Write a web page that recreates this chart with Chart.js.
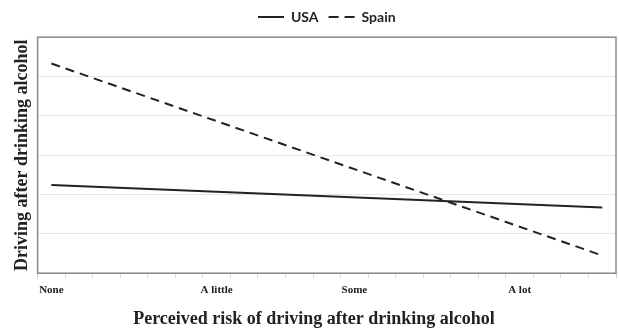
<!DOCTYPE html>
<html>
<head>
<meta charset="utf-8">
<script src="https://cdn.jsdelivr.net/npm/chart.js@4.4.1/dist/chart.umd.min.js"></script>
<style>
  html, body { margin: 0; padding: 0; background: #fff; }
  #wrap { width: 619px; height: 330px; }
</style>
</head>
<body>
<div id="wrap"><canvas id="riskChart"></canvas></div>
<script>
// 21 steps along the perceived-risk axis, only four of them labelled
const stepCount = 21;
const riskLabels = ["None", "A little", "Some", "A lot"];
const riskLabelSteps = [0, 6, 11, 17];

// fitted lines: value at the first and at the last step
const usaValues = [2.24, 1.67];
const spainValues = [5.33, 0.45];

const yTicks = [0, 1, 2, 3, 4, 5, 6];

const categories = [];
for (let i = 0; i < stepCount; i++) {
  const k = riskLabelSteps.indexOf(i);
  categories.push(k >= 0 ? riskLabels[k] : "");
}

function endpoints(vals) {
  const arr = new Array(stepCount).fill(null);
  arr[0] = vals[0];
  arr[stepCount - 1] = vals[1];
  return arr;
}

const frame = {
  id: "frame",
  beforeDatasetsDraw(chart) {
    const a = chart.chartArea;
    const ctx = chart.ctx;
    ctx.save();
    ctx.strokeStyle = "#8a8a8a";
    ctx.lineWidth = 1.5;
    ctx.strokeRect(a.left, a.top, a.right - a.left, a.bottom - a.top);
    ctx.restore();
  }
};

new Chart(document.getElementById("riskChart"), {
  type: "line",
  data: {
    labels: categories,
    datasets: [
      {
        label: "USA",
        data: endpoints(usaValues),
        borderColor: "#222",
        backgroundColor: "#222",
        borderWidth: 2,
        pointRadius: 0,
        spanGaps: true
      },
      {
        label: "Spain",
        data: endpoints(spainValues),
        borderColor: "#222",
        backgroundColor: "#222",
        borderWidth: 2,
        borderDash: [9, 6],
        pointRadius: 0,
        spanGaps: true
      }
    ]
  },
  options: {
    responsive: true,
    maintainAspectRatio: false,
    animation: false,
    layout: { padding: { left: 12, right: 3, top: 0, bottom: 0 } },
    plugins: {
      legend: {
        position: "top",
        fullSize: false,
        labels: {
          usePointStyle: true,
          pointStyle: "line",
          pointStyleWidth: 26,
          color: "#222",
          padding: 10,
          font: { family: "Lato", size: 14, weight: "bold" },
          generateLabels(chart) {
            const items = Chart.defaults.plugins.legend.labels.generateLabels(chart);
            items.forEach(it => {
              const ds = chart.data.datasets[it.datasetIndex];
              it.lineDash = ds.borderDash ? [10, 6] : [];
              it.lineWidth = 2;
            });
            return items;
          }
        }
      },
      title: {
        display: true,
        position: "bottom",
        text: "Perceived risk of driving after drinking alcohol",
        color: "#222",
        padding: { top: 7, bottom: 0 },
        font: { family: "'Liberation Serif'", size: 18, weight: "bold" }
      },
      tooltip: { enabled: false }
    },
    scales: {
      x: {
        offset: true,
        grid: {
          offset: true,
          drawOnChartArea: false,
          drawTicks: true,
          tickLength: 5,
          color: "#d9d9d9"
        },
        border: { display: false },
        ticks: {
          autoSkip: false,
          maxRotation: 0,
          padding: 5,
          color: "#222",
          font: { family: "'Liberation Serif'", size: 11, weight: "bold" }
        }
      },
      // empty top axis, only used as a small gap under the legend
      gap: {
        type: "linear",
        position: "top",
        grid: { display: false, drawTicks: false },
        border: { display: false },
        ticks: { display: false },
        title: { display: true, text: " ", font: { size: 1 }, padding: { top: 0, bottom: 2 } }
      },
      y: {
        min: yTicks[0],
        max: yTicks[yTicks.length - 1],
        afterBuildTicks(scale) {
          scale.ticks = yTicks.map(v => ({ value: v }));
        },
        grid: { color: "#e6e6e6", drawTicks: false },
        border: { display: false },
        ticks: { display: false },
        title: {
          display: true,
          text: "Driving after drinking alcohol",
          color: "#222",
          padding: { top: 0, bottom: 4 },
          font: { family: "'Liberation Serif'", size: 18, weight: "bold" }
        }
      }
    }
  },
  plugins: [frame]
});
</script>
</body>
</html>
